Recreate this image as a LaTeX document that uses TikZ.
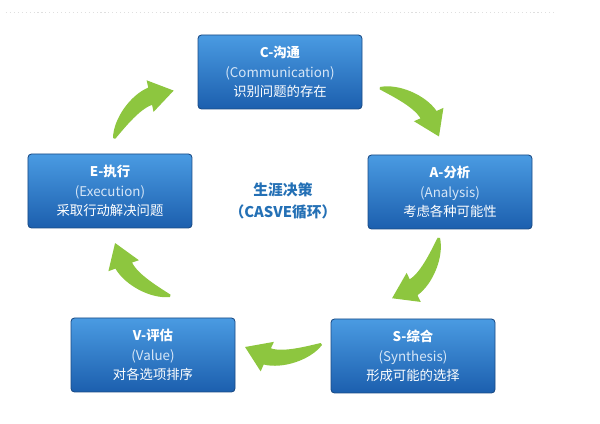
\documentclass[tikz,border=0pt]{standalone}
\usepackage{fontspec}
\setmainfont{Noto Sans CJK SC}
\usepackage{xcolor}

\definecolor{boxtop}{HTML}{4A9BE2}
\definecolor{boxbottom}{HTML}{1C5FAE}
\definecolor{boxedge}{HTML}{1A4A84}
\definecolor{engtext}{HTML}{D6E6F7}
\definecolor{leafgreen}{HTML}{8DC63F}
\definecolor{titleblue}{HTML}{2470B5}

\tikzset{
  stage/.style={rectangle, rounded corners=2.5pt, draw=boxedge, line width=0.6pt,
    top color=boxtop, bottom color=boxbottom, minimum width=4.1cm, minimum height=1.85cm,
    align=center, text=white, font=\fontsize{9.5}{14}\selectfont},
  cyclearrow/.pic={
    \fill[leafgreen] (0,0) .. controls (0.3,0.37) and (1.0,0.58) .. (1.47,0.45)
      -- (1.55,0.62) -- (1.925,0) -- (1.2,-0.11) -- (1.28,0.05)
      .. controls (0.95,0.17) and (0.3,0.0) .. (0.03,-0.05) -- cycle;
  }
}

\begin{document}
\begin{tikzpicture}
    \useasboundingbox (0,0) rectangle (15,10.6);

    % faint rule at the top
    \draw[gray!25, dotted, line width=0.8pt] (0.15,10.29) -- (13.9,10.29);

    \node[stage] (C) at (7.0,8.8) {{\bfseries C-沟通}\\{\color{engtext}(Communication)}\\识别问题的存在};
    \node[stage] (A) at (11.25,5.8) {{\bfseries A-分析}\\{\color{engtext}(Analysis)}\\考虑各种可能性};
    \node[stage] (S) at (10.325,1.7) {{\bfseries S-综合}\\{\color{engtext}(Synthesis)}\\形成可能的选择};
    \node[stage] (V) at (3.825,1.725) {{\bfseries V-评估}\\{\color{engtext}(Value)}\\对各选项排序};
    \node[stage] (E) at (2.75,5.825) {{\bfseries E-执行}\\{\color{engtext}(Execution)}\\采取行动解决问题};

    \node[text=titleblue, align=center, font=\fontsize{10.5}{15.5}\selectfont\bfseries] (cycle) at (7.075,5.575) {生涯决策\\（CASVE循环）};

    % arrows between the stages
    \coordinate (EC) at (2.825,7.15);
    \coordinate (CA) at (9.5,8.425);
    \coordinate (AS) at (11.0,4.65);
    \coordinate (SV) at (8.05,1.975);
    \coordinate (VE) at (4.25,3.175);

    \pic[rotate=38] at (EC) {cyclearrow};
    \pic[rotate=-40] at (CA) {cyclearrow};
    \pic[rotate=-128.5] at (AS) {cyclearrow};
    \pic[rotate=181.5] at (SV) {cyclearrow};
    \pic[rotate=135.5] at (VE) {cyclearrow};
\end{tikzpicture}
\end{document}
